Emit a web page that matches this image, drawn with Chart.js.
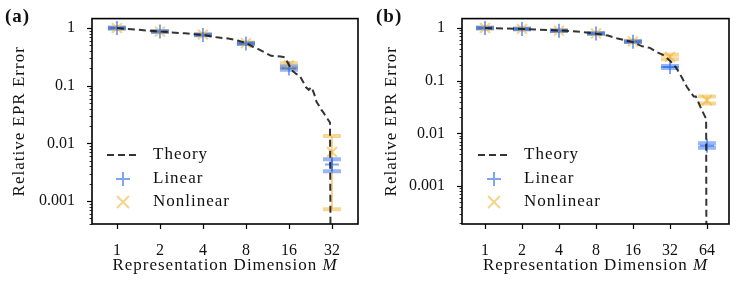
<!DOCTYPE html>
<html lang="en">
<head>
  <meta charset="UTF-8" />
  <title>Relative EPR Error vs Representation Dimension</title>
  <script src="https://cdn.jsdelivr.net/npm/chart.js"></script>
  <style>
    body { margin: 0; background: #fff; }
    .wrap { position: relative; width: 748px; height: 294px; }
    .panel { position: absolute; top: 0; width: 374px; height: 294px; }
    #panelA { left: 0; }
    #panelB { left: 374px; }
  </style>
</head>
<body>
<div class="wrap">
  <div class="panel" id="panelA"><canvas id="chartA"></canvas></div>
  <div class="panel" id="panelB"><canvas id="chartB"></canvas></div>
</div>
<script>
  // ---- panel (a) ----
  const dimsA = [1, 2, 4, 8, 16, 32];
  const linearA = [1.0, 0.87, 0.76, 0.54, 0.20, 0.0043];
  const linearLoA = [0.985, 0.86, 0.75, 0.53, 0.19, 0.0033];
  const linearHiA = [1.015, 0.88, 0.77, 0.55, 0.215, 0.0053];
  const nonlinearA = [1.0, 0.87, 0.77, 0.55, 0.225, 0.0071];
  const nonlinearLoA = [0.98, 0.855, 0.755, 0.535, 0.205, 0.00072];
  const nonlinearHiA = [1.02, 0.885, 0.785, 0.56, 0.245, 0.0134];
  // theory falls to ~0 at the last point (runs off the bottom of the axis)
  const theoryMA = [1, 2, 3, 4, 5, 6, 7, 8, 9, 10, 11, 12, 13, 14, 15, 16,
                    17, 18, 19, 20, 21, 22, 23, 24, 25, 26, 27, 28, 29, 30, 31, 32];
  const theoryA = [1.0, 0.87, 0.81, 0.76, 0.69, 0.66, 0.61, 0.55, 0.47, 0.42, 0.37, 0.33, 0.325, 0.32, 0.31, 0.23,
                   0.18, 0.16, 0.15, 0.12, 0.095, 0.085, 0.095, 0.073, 0.052, 0.045, 0.038, 0.034, 0.029, 0.026, 0.023, 1e-9];

  // ---- panel (b) ----
  const dimsB = [1, 2, 4, 8, 16, 32, 64];
  const linearB = [1.0, 0.96, 0.89, 0.79, 0.55, 0.182, 0.0058];
  const linearLoB = [0.985, 0.95, 0.88, 0.78, 0.54, 0.175, 0.0053];
  const linearHiB = [1.015, 0.97, 0.9, 0.8, 0.56, 0.19, 0.0065];
  const nonlinearB = [1.0, 0.96, 0.89, 0.79, 0.56, 0.284, 0.0425];
  const nonlinearLoB = [0.98, 0.945, 0.875, 0.775, 0.545, 0.255, 0.037];
  const nonlinearHiB = [1.02, 0.975, 0.905, 0.805, 0.575, 0.31, 0.05];
  const theoryMB = [1, 2, 4, 6, 8, 10, 12, 14, 16, 19, 22, 25, 28, 32, 36, 40, 44, 48, 50, 52, 55, 58, 61, 63, 64];
  const theoryB = [1.0, 0.96, 0.9, 0.85, 0.78, 0.72, 0.63, 0.58, 0.54, 0.45, 0.42, 0.35, 0.31, 0.24,
                   0.175, 0.115, 0.076, 0.057, 0.05, 0.05, 0.037, 0.028, 0.022, 0.019, 1e-9];

  // ticks
  const yTickValues = [0.001, 0.01, 0.1, 1];
  const yTickLabels = ['0.001', '0.01', '0.1', '1'];

  const BLUE = 'rgba(45,110,235,0.62)';
  const BLUE_CAP = 'rgba(45,110,235,0.5)';
  const YELLOW = 'rgba(240,182,62,0.6)';
  const YELLOW_CAP = 'rgba(240,182,62,0.55)';
  const THEORY = 'rgba(30,30,30,0.9)';
  const FONT = '"Liberation Serif", "Times New Roman", serif';

  const pts = (xs, ys) => xs.map((x, i) => ({ x, y: ys[i] }));
  const caps = (xs, lo, hi) => xs.flatMap((x, i) => [{ x, y: lo[i] }, { x, y: hi[i] }]);
  const stems = (xs, lo, hi) => xs.flatMap((x, i) => [{ x, y: lo[i] }, { x, y: hi[i] }, { x, y: null }]);

  const isMajor = v => Math.abs(Math.log10(v) - Math.round(Math.log10(v))) < 1e-9;

  // frame, tick marks, titles, panel tag and legend
  const decor = {
    id: 'decor',
    afterDraw(chart, args, o) {
      const { ctx, chartArea: a, scales } = chart;
      const x = scales.x, y = scales.y;
      ctx.save();
      ctx.strokeStyle = '#000';
      y.ticks.forEach(t => {
        const py = Math.round(y.getPixelForValue(t.value)) + 0.5;
        const len = isMajor(t.value) ? 5 : 2.5;
        ctx.lineWidth = isMajor(t.value) ? 1.2 : 0.8;
        ctx.beginPath(); ctx.moveTo(a.left - len, py); ctx.lineTo(a.left, py); ctx.stroke();
      });
      ctx.lineWidth = 1.2;
      x.ticks.forEach(t => {
        const px = Math.round(x.getPixelForValue(t.value)) + 0.5;
        ctx.beginPath(); ctx.moveTo(px, a.bottom); ctx.lineTo(px, a.bottom + 5); ctx.stroke();
      });
      ctx.lineWidth = 1.6;
      ctx.strokeRect(a.left, a.top, a.right - a.left, a.bottom - a.top);

      ctx.fillStyle = '#111';
      ctx.letterSpacing = '1px';
      // x title with italic M
      const f1 = '17px ' + FONT, f2 = 'italic 17px ' + FONT;
      const s1 = 'Representation Dimension ', s2 = 'M';
      ctx.font = f1; const w1 = ctx.measureText(s1).width;
      ctx.font = f2; const w2 = ctx.measureText(s2).width;
      const sx = (a.left + a.right) / 2 - (w1 + w2) / 2;
      ctx.textBaseline = 'middle'; ctx.textAlign = 'left';
      ctx.font = f1; ctx.fillText(s1, sx, 266);
      ctx.font = f2; ctx.fillText(s2, sx + w1, 266);
      // y title
      ctx.save();
      ctx.translate(o.yTitleX, (a.top + a.bottom) / 2);
      ctx.rotate(-Math.PI / 2);
      ctx.textAlign = 'center';
      ctx.font = f1;
      ctx.fillText('Relative EPR Error', 0, 0);
      ctx.restore();
      // panel tag
      ctx.font = 'bold 19px ' + FONT;
      ctx.textAlign = 'left';
      ctx.fillText(o.tag, o.tagX, 17);

      // legend
      const lx = a.left + o.legendDx;
      ctx.strokeStyle = THEORY; ctx.lineWidth = 2; ctx.setLineDash([7, 4]);
      ctx.beginPath(); ctx.moveTo(lx, 155); ctx.lineTo(lx + 33, 155); ctx.stroke();
      ctx.setLineDash([]);
      const cx = lx + 16;
      ctx.strokeStyle = BLUE; ctx.lineWidth = 2;
      ctx.beginPath();
      ctx.moveTo(cx - 7, 179); ctx.lineTo(cx + 7, 179);
      ctx.moveTo(cx, 172); ctx.lineTo(cx, 186);
      ctx.stroke();
      ctx.strokeStyle = YELLOW;
      ctx.beginPath();
      ctx.moveTo(cx - 6, 196); ctx.lineTo(cx + 6, 208);
      ctx.moveTo(cx - 6, 208); ctx.lineTo(cx + 6, 196);
      ctx.stroke();
      ctx.fillStyle = '#111';
      ctx.font = '17px ' + FONT;
      ctx.fillText('Theory', lx + 46, 155);
      ctx.fillText('Linear', lx + 46, 179);
      ctx.fillText('Nonlinear', lx + 46, 202);
      ctx.restore();
    }
  };

  function makePanel(id, p) {
    const datasets = [
      { type: 'line', data: stems(p.dims, p.nonlinearLo, p.nonlinearHi), borderColor: YELLOW, borderWidth: 2,
        pointRadius: 0, spanGaps: false, order: 9 },
      { type: 'line', data: stems(p.dims, p.linearLo, p.linearHi), borderColor: BLUE, borderWidth: 2,
        pointRadius: 0, spanGaps: false, order: 8 },
      { type: 'scatter', data: caps(p.dims, p.nonlinearLo, p.nonlinearHi), pointStyle: 'line', pointRadius: 9,
        borderColor: YELLOW_CAP, pointBorderWidth: 4, order: 7 },
      { type: 'scatter', data: caps(p.dims, p.linearLo, p.linearHi), pointStyle: 'line', pointRadius: 9,
        borderColor: BLUE_CAP, pointBorderWidth: 4, order: 6 },
      { type: 'scatter', data: pts(p.dims, p.nonlinear), pointStyle: 'crossRot', pointRadius: 7,
        borderColor: YELLOW, pointBorderWidth: 2, order: 5 },
      { type: 'scatter', data: pts(p.dims, p.linear), pointStyle: 'cross', pointRadius: 7,
        borderColor: BLUE, pointBorderWidth: 2, order: 4 },
      { type: 'line', data: pts(p.theoryM, p.theory), borderColor: THEORY, borderWidth: 2, borderDash: [7, 4],
        pointRadius: 0, tension: 0, clip: 0, order: 1 }
    ];
    return new Chart(document.getElementById(id), {
      data: { datasets },
      plugins: [decor],
      options: {
        responsive: true,
        maintainAspectRatio: false,
        animation: false,
        events: [],
        layout: { padding: { top: 8, right: p.padRight, bottom: 0, left: 0 } },
        plugins: {
          legend: { display: false },
          tooltip: { enabled: false },
          decor: { tag: p.tag, tagX: p.tagX, yTitleX: p.yTitleX, legendDx: p.legendDx }
        },
        scales: {
          x: {
            type: 'logarithmic', min: p.xMin, max: p.xMax,
            grid: { display: false }, border: { display: false },
            afterBuildTicks: s => { s.ticks = p.dims.map(v => ({ value: v })); },
            afterFit: s => { s.height = 70; },
            ticks: { color: '#111', font: { family: FONT, size: 16 }, padding: 9, maxRotation: 0,
                     callback: v => String(v) }
          },
          y: {
            type: 'logarithmic', min: p.yMin, max: p.yMax,
            grid: { display: false }, border: { display: false },
            afterBuildTicks: s => {
              const t = [];
              for (let e = -4; e <= 0; e++) for (let m = 1; m <= 9; m++) {
                const v = m * Math.pow(10, e);
                if (v >= s.min && v <= s.max) t.push({ value: v });
              }
              s.ticks = t;
            },
            afterFit: s => { s.width = p.yWidth; },
            ticks: { color: '#111', font: { family: FONT, size: 16 }, padding: 9, autoSkip: false,
                     callback: v => {
                       const i = yTickValues.findIndex(t => Math.abs(t - v) / t < 1e-6);
                       return i >= 0 ? yTickLabels[i] : '';
                     } }
          }
        }
      }
    });
  }

  makePanel('chartA', {
    dims: dimsA, linear: linearA, linearLo: linearLoA, linearHi: linearHiA,
    nonlinear: nonlinearA, nonlinearLo: nonlinearLoA, nonlinearHi: nonlinearHiA,
    theoryM: theoryMA, theory: theoryA,
    xMin: 0.669, xMax: 48.7, yMin: 4e-4, yMax: 1.46,
    padRight: 16, yWidth: 92, tag: '(a)', tagX: 5, yTitleX: 20, legendDx: 15
  });
  makePanel('chartB', {
    dims: dimsB, linear: linearB, linearLo: linearLoB, linearHi: linearHiB,
    nonlinear: nonlinearB, nonlinearLo: nonlinearLoB, nonlinearHi: nonlinearHiB,
    theoryM: theoryMB, theory: theoryB,
    xMin: 0.65, xMax: 96.7, yMin: 1.9e-4, yMax: 1.51,
    padRight: 19, yWidth: 88, tag: '(b)', tagX: 2, yTitleX: 18, legendDx: 16
  });
</script>
</body>
</html>
